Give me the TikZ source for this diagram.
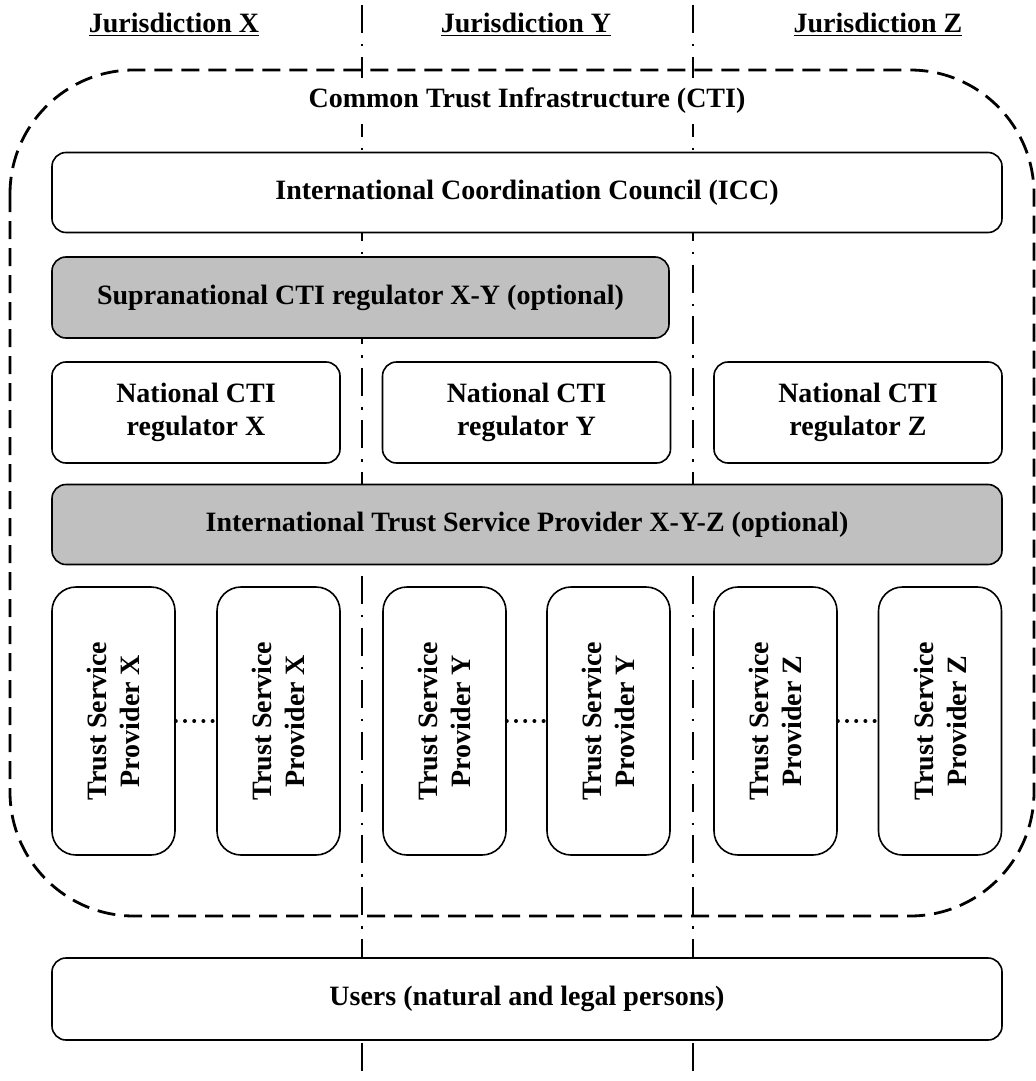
\documentclass[tikz,border=0pt]{standalone}
\usepackage{fontspec}
\setmainfont{Liberation Serif}
\usetikzlibrary{positioning}
\definecolor{CTIGray}{HTML}{C0C0C0}

\begin{document}
\begin{tikzpicture}[
    x=0.5pt, y=-0.5pt,
    font=\bfseries\fontsize{14}{16.5}\selectfont,
    box/.style={
      draw,
      line width=0.8pt,
      fill=#1,
      rounded corners=7pt,
      align=center,
      inner sep=0pt
    },
    box/.default=white,
    wide/.style={box=#1, minimum width=475pt, minimum height=40pt},
    wide/.default=white,
    regulator/.style={box, minimum width=144pt, minimum height=50.5pt},
    provider/.style={box, rotate=90, rounded corners=12pt,
      minimum width=134pt, minimum height=61.5pt},
    head/.style={inner sep=1pt},
    border/.style={line width=1.2pt, dash pattern=on 14pt off 5.5pt on 1.2pt off 5.25pt},
    cti/.style={line width=1.4pt, dash pattern=on 9pt off 4.5pt, rounded corners=62pt},
    dots/.style={line width=2pt, line cap=round, dash pattern=on 0pt off 4.6pt}
  ]
  \useasboundingbox (0,0) rectangle (1036,1081);

  % Jurisdiction borders
  \draw[border] (362,5) -- (362,1081);
  \draw[border] (693,5) -- (693,1081);

  % Headings
  \node[head] (jx) at (174,25) {\underline{Jurisdiction X}};
  \node[head] (jy) at (526,25) {\underline{Jurisdiction Y}};
  \node[head] (jz) at (878,25) {\underline{Jurisdiction Z}};

  % Common Trust Infrastructure
  \draw[cti] (10,70) rectangle (1034,916);
  \node[fill=white, inner xsep=2pt, inner ysep=5pt] (cti) at (527,101) {Common Trust Infrastructure (CTI)};

  % Council and regulators
  \node[wide] (icc) at (527,192.5) {International Coordination Council (ICC)};
  \node[box=CTIGray, minimum width=308.5pt, minimum height=40.5pt] (supra) at (360.5,297.5)
    {Supranational CTI regulator X-Y (optional)};
  \node[regulator] (natx) at (196,412.5)   {National CTI\\regulator X};
  \node[regulator] (naty) at (526.5,412.5) {National CTI\\regulator Y};
  \node[regulator] (natz) at (858,412.5)   {National CTI\\regulator Z};
  \node[wide=CTIGray] (itsp) at (527,524.5) {International Trust Service Provider X-Y-Z (optional)};

  % Trust service providers
  \node[provider] (tspx1) at (113.5,721) {Trust Service\\Provider X};
  \node[provider] (tspx2) at (278.5,721) {Trust Service\\Provider X};
  \node[provider] (tspy1) at (444.5,721) {Trust Service\\Provider Y};
  \node[provider] (tspy2) at (608.5,721) {Trust Service\\Provider Y};
  \node[provider] (tspz1) at (775.5,721) {Trust Service\\Provider Z};
  \node[provider] (tspz2) at (940,721)   {Trust Service\\Provider Z};

  \draw[dots] (tspx1) -- (tspx2);
  \draw[dots] (tspy1) -- (tspy2);
  \draw[dots] (tspz1) -- (tspz2);

  % Users
  \node[wide, minimum height=41pt] (users) at (527,999) {Users (natural and legal persons)};

\end{tikzpicture}
\end{document}
